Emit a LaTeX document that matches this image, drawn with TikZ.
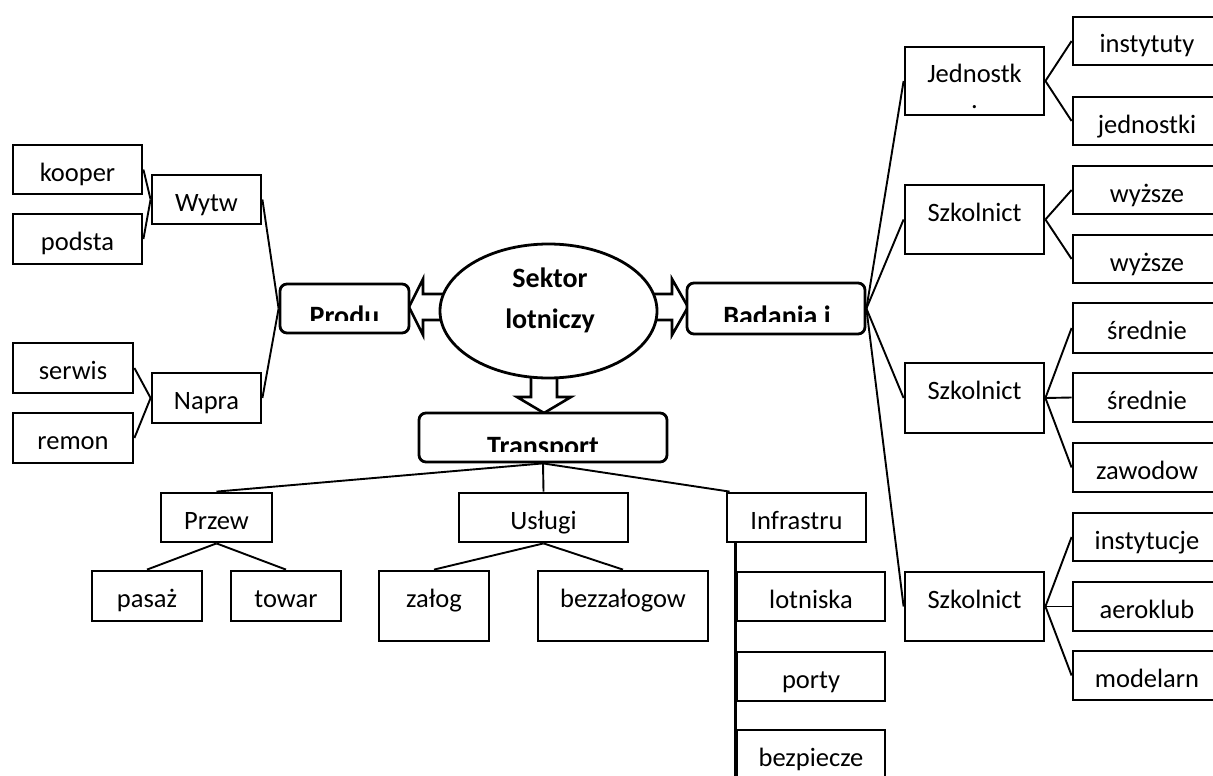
\documentclass[tikz,border=0pt]{standalone}
\usepackage{fontspec}
\setmainfont{Carlito}
\usetikzlibrary{shapes.geometric,calc}
\tikzset{
  bx/.style={draw, line width=2.8pt, inner sep=0pt, fill=white},
  rbx/.style={bx, rounded corners=7pt},
  txt/.style={inner sep=0pt, font=\fontsize{26.5}{31}\selectfont, anchor=base},
  btxt/.style={inner sep=0pt, font=\fontsize{28}{41}\bfseries\selectfont, anchor=base},
  conn/.style={line width=1.9pt},
  harrow/.style={draw, line width=2.6pt, fill=white, line join=miter},
}
\newcommand\mkbox[7][bx]{%
  \node[#1, minimum width={#5-#3}, minimum height={#6-#4}] (#2) at ({(#3+#5)/2},{(#4+#6)/2}) {};
  \node[txt] (#2-t) at ({(#3+#5)/2},{#4+36}) {#7};
}
\begin{document}
\begin{tikzpicture}[x=1pt,y=-1pt]
\fill[white] (0,0) rectangle (1213,776);
\useasboundingbox (0,0) rectangle (1213,776);

% hollow arrows
\draw[harrow] (450,294) -- (423,294) -- (423,279) -- (409,307) -- (423,335) -- (423,320) -- (450,320) -- cycle;
\draw[harrow] (647,294) -- (672,294) -- (672,279) -- (688,307) -- (672,335) -- (672,320) -- (647,320) -- cycle;
\draw[harrow] (531,365) -- (531,397) -- (517,397) -- (544,413) -- (571,397) -- (557,397) -- (557,365) -- cycle;

% central ellipse
\node[draw, ellipse, line width=2.8pt, fill=white, minimum width=217, minimum height=134, inner sep=0pt] (sektor) at (548.5,311) {};
\node[btxt] (sektor-t1) at (550,287) {Sektor};
\node[btxt] (sektor-t2) at (550,328) {lotniczy};

% main rounded boxes with clipped bold text
\node[rbx, minimum width=129, minimum height=49] (produ) at (344.5,308.5) {};
\begin{scope}
  \clip (280,284) rectangle (409,320);
  \node[btxt] (produ-t) at (344.5,325) {Produ};
\end{scope}
\node[rbx, minimum width=178, minimum height=51] (badania) at (776,308.5) {};
\begin{scope}
  \clip (687,283) rectangle (865,321);
  \node[btxt] (badania-t) at (777,325) {Badania i};
\end{scope}
\node[rbx, minimum width=248, minimum height=49] (transport) at (543,437.5) {};
\begin{scope}
  \clip (419,413) rectangle (667,451);
  \node[btxt] (transport-t) at (543,455) {Transport};
\end{scope}

% left branch
\mkbox{kooper}{13}{145}{142}{194}{kooper}
\mkbox{podsta}{13}{214}{142}{264}{podsta}
\mkbox{wytw}{152}{175}{261}{224}{Wytw}
\mkbox{serwis}{13}{343}{133}{393}{serwis}
\mkbox{remon}{13}{413}{133}{463}{remon}
\mkbox{napra}{152}{373}{261}{423}{Napra}

\draw[conn] (kooper.east) -- (wytw.west);
\draw[conn] (podsta.east) -- (wytw.west);
\draw[conn] (serwis.east) -- (napra.west);
\draw[conn] (remon.east) -- (napra.west);
\draw[conn] (wytw.east) -- (produ.west);
\draw[conn] (napra.east) -- (produ.west);

% right branch
\mkbox{jed}{905}{47}{1044}{115}{Jednostk}
\node[txt] (jed-t2) at (974.5,108) {.};
\mkbox{szk1}{905}{185}{1044}{254}{Szkolnict}
\mkbox{szk2}{905}{363}{1044}{433}{Szkolnict}
\mkbox{szk3}{905}{572}{1044}{641}{Szkolnict}

\mkbox{inst}{1073}{17}{1221}{65}{instytuty}
\mkbox{jedn}{1073}{97}{1221}{145}{jednostki}
\mkbox{wyz1}{1073}{166}{1221}{214}{wyższe}
\mkbox{wyz2}{1073}{235}{1221}{283}{wyższe}
\mkbox{sre1}{1073}{303}{1221}{353}{średnie}
\mkbox{sre2}{1073}{373}{1221}{422}{średnie}
\mkbox{zaw}{1073}{443}{1221}{492}{zawodow}
\mkbox{instc}{1073}{513}{1221}{561}{instytucje}
\mkbox{aero}{1073}{582}{1221}{631}{aeroklub}
\mkbox{model}{1073}{651}{1221}{700}{modelarn}

\draw[conn] (badania.east) -- (jed.west);
\draw[conn] (badania.east) -- (szk1.west);
\draw[conn] (badania.east) -- (szk2.west);
\draw[conn] (badania.east) -- (szk3.west);
\draw[conn] (jed.east) -- (inst.west);
\draw[conn] (jed.east) -- (jedn.west);
\draw[conn] (szk1.east) -- (wyz1.west);
\draw[conn] (szk1.east) -- (wyz2.west);
\draw[conn] (szk2.east) -- (sre1.west);
\draw[conn] (szk2.east) -- (sre2.west);
\draw[conn] (szk2.east) -- (zaw.west);
\draw[conn] (szk3.east) -- (instc.west);
\draw[conn] (szk3.east) -- (aero.west);
\draw[conn] (szk3.east) -- (model.west);

% bottom branch
\mkbox{przew}{161}{493}{272}{542}{Przew}
\mkbox{uslugi}{459}{493}{628}{542}{Usługi}
\mkbox{infra}{727}{493}{866}{542}{Infrastru}
\mkbox{pasaz}{92}{571}{202}{621}{pasaż}
\mkbox{towar}{231}{571}{341}{621}{towar}
\mkbox{zalog}{379}{571}{489}{641}{załog}
\mkbox{bezz}{538}{571}{708}{641}{bezzałogow}
\mkbox{lotn}{737}{572}{885}{621}{lotniska}
\mkbox{porty}{737}{652}{885}{701}{porty}
\mkbox{bezp}{737}{730}{885}{790}{bezpiecze}

\coordinate (infratop) at ($(infra.north west)+(4,0)$);
\coordinate (infrabot) at ($(infra.south west)+(10,0)$);
\coordinate (infraend) at ($(infrabot)+(0,250)$);

\draw[conn] (transport.south) -- (przew.north);
\draw[conn] (transport.south) -- (uslugi.north);
\draw[conn] (transport.south) -- (infratop);
\draw[conn] (przew.south) -- (pasaz.north);
\draw[conn] (przew.south) -- (towar.north);
\draw[conn] (uslugi.south) -- (zalog.north);
\draw[conn] (uslugi.south) -- (bezz.north);
\draw[line width=2.4pt] (infrabot) -- (infraend);
\end{tikzpicture}
\end{document}
